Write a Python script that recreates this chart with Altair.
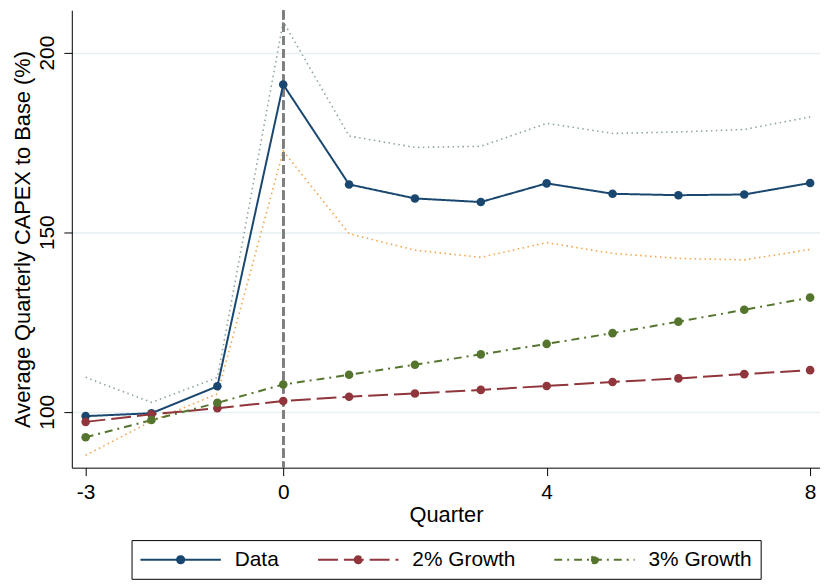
import altair as alt
import pandas as pd

# ---- data ----
quarters = [-3, -2, -1, 0, 1, 2, 3, 4, 5, 6, 7, 8]
data_vals = [98.8, 99.6, 107.1, 191.1, 163.3, 159.4, 158.4, 163.6, 160.7, 160.3, 160.5, 163.7]
growth2 = [97.2, 99.3, 101.0, 103.0, 104.2, 105.1, 106.1, 107.2, 108.3, 109.3, 110.5, 111.6]
growth3 = [92.9, 97.7, 102.5, 107.6, 110.3, 113.1, 116.0, 118.9, 121.9, 125.1, 128.4, 131.8]
ci_upper = [109.6, 102.6, 109.5, 208.6, 176.8, 173.6, 173.9, 180.3, 177.5, 177.9, 178.6, 182.1]
ci_lower = [87.9, 97.4, 105.0, 172.6, 149.6, 145.0, 143.0, 147.1, 144.1, 142.7, 142.3, 145.2]

series_names = ["Data", "2% Growth", "3% Growth"]
series_colors = ["#1a476f", "#90353b", "#55752f"]
series_dashes = [[1, 0], [20, 6], [8, 5, 2, 5]]
x_ticks = [-3, 0, 4, 8]
y_ticks = [100, 150, 200]

long_df = pd.DataFrame({
    "quarter": quarters * 3,
    "value": data_vals + growth2 + growth3,
    "series": [s for s in series_names for _ in quarters],
})
ci_df = pd.DataFrame({"quarter": quarters, "upper": ci_upper, "lower": ci_lower})

FONT = "Liberation Sans"
x_scale = alt.Scale(domain=[-3.21, 8.15], nice=False, zero=False)
y_scale = alt.Scale(domain=[84.45, 211.8], nice=False, zero=False)

x_axis = alt.Axis(
    title="Quarter", values=x_ticks, grid=False, tickSize=8,
    labelExpr="'' + datum.value",
    labelFontSize=21, titleFontSize=22, labelPadding=6, titlePadding=2,
    labelFont=FONT, titleFont=FONT, titleFontWeight="normal",
    domainColor="black", tickColor="black", labelColor="black", titleColor="black",
)
y_axis = alt.Axis(
    title="Average Quarterly CAPEX to Base (%)", values=y_ticks, grid=True,
    gridColor="#e6eff1", gridWidth=1.5, tickSize=8,
    labelAngle=-90, labelAlign="center", labelBaseline="bottom",
    labelFontSize=21, titleFontSize=22, labelPadding=6, titlePadding=3,
    labelFont=FONT, titleFont=FONT, titleFontWeight="normal",
    domainColor="black", tickColor="black", labelColor="black", titleColor="black",
)

x_enc = alt.X("quarter:Q", scale=x_scale, axis=x_axis)

upper = alt.Chart(ci_df).mark_line(
    color="#8aa59c", strokeDash=[1.5, 3.5], strokeWidth=1.6
).encode(x=x_enc, y=alt.Y("upper:Q", scale=y_scale, axis=y_axis))

lower = alt.Chart(ci_df).mark_line(
    color="#f2a446", strokeDash=[1.5, 3.5], strokeWidth=1.6
).encode(x=x_enc, y=alt.Y("lower:Q", scale=y_scale, axis=y_axis))

vline = alt.Chart(ci_df).mark_rule(
    color="#7f7f7f", strokeDash=[9, 4], strokeWidth=2
).encode(x=alt.datum(0, scale=x_scale))

# legend symbol: a long stroke with a filled dot in its middle (custom path)
SYMBOL_PATH = "M-2.1,0H14.1M6.72,0A0.72,0.72,0,1,1,5.28,0A0.72,0.72,0,1,1,6.72,0Z"

legend_def = alt.Legend(
    orient="none", legendX=60.2, legendY=534, direction="horizontal", columns=3,
    title=None, strokeColor="black", padding=9, symbolType=SYMBOL_PATH,
    symbolSize=100, symbolStrokeWidth=2, labelFontSize=21, labelFont=FONT,
    labelColor="black", labelOffset=74, columnPadding=35, symbolOpacity=1,
    symbolFillColor={"expr": "scale('color', datum.value)"},
)

color_scale = alt.Scale(domain=series_names, range=series_colors)
dash_scale = alt.Scale(domain=series_names, range=series_dashes)

lines = alt.Chart(long_df).mark_line(strokeWidth=2).encode(
    x=x_enc,
    y=alt.Y("value:Q", scale=y_scale, axis=y_axis),
    color=alt.Color("series:N", scale=color_scale, legend=legend_def, sort=series_names),
    strokeDash=alt.StrokeDash("series:N", scale=dash_scale, legend=legend_def, sort=series_names),
    detail="series:N",
)

points = alt.Chart(long_df).mark_point(filled=True, size=75, opacity=1).encode(
    x=x_enc,
    y=alt.Y("value:Q", scale=y_scale, axis=y_axis),
    color=alt.Color("series:N", scale=color_scale, legend=None, sort=series_names),
)

chart = alt.layer(upper, lower, vline, lines, points).properties(
    width=754, height=461,
    autosize=alt.AutoSizeParams(type="none"),
    padding={"left": 64.3, "top": 0, "right": 0, "bottom": 115},
    background="white",
).configure_view(stroke=None)

chart.save("out.html", embed_options={"renderer": "svg", "actions": False})
